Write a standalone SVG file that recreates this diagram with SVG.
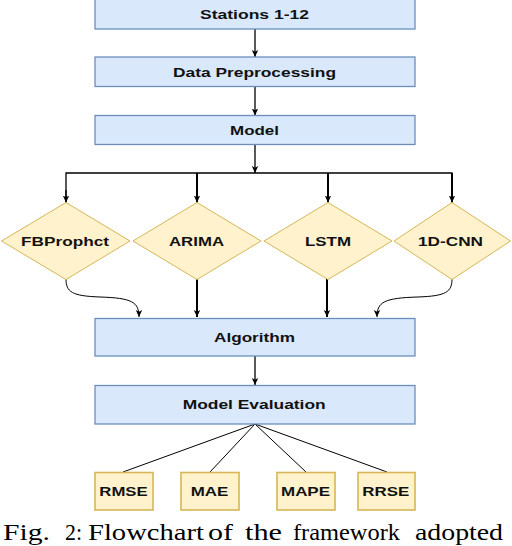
<svg xmlns="http://www.w3.org/2000/svg" width="512" height="546" viewBox="0 0 512 546">
<style>
.box{fill:#dae8fc;stroke:#6c8ebf;stroke-width:1.3}
.dia{fill:#fff2cc;stroke:#d6b656;stroke-width:1}
.met{fill:#fff2cc;stroke:#d6b656;stroke-width:1.6}
.t{font-family:"Liberation Sans",Arial,sans-serif;font-weight:bold;font-size:13px;fill:#111}
.c{fill:none;stroke:#000;stroke-width:1.3}
.ct{fill:none;stroke:#000;stroke-width:2}
.cn{fill:none;stroke:#000;stroke-width:1}
.cap{font-family:"Liberation Serif","Times New Roman",serif;font-size:23px;fill:#000}
</style>
<defs>
<marker id="ah" markerWidth="8" markerHeight="8" refX="7" refY="4" orient="auto" markerUnits="userSpaceOnUse">
<path d="M0,0.8 L7,4 L0,7.2 L1.8,4 Z" fill="#000"/>
</marker>
</defs>
<g id="connectors">
<line class="c" x1="255" y1="29" x2="255" y2="57" marker-end="url(#ah)"/>
<line class="c" x1="255" y1="86.5" x2="255" y2="115.5" marker-end="url(#ah)"/>
<line class="c" x1="255" y1="144.5" x2="255" y2="173" marker-end="url(#ah)"/>
<polyline class="c" points="66,202.5 66,173 452,173 452,202.5"/>
<line class="c" x1="66" y1="190" x2="66" y2="202.5" marker-end="url(#ah)"/>
<line class="ct" x1="197" y1="173" x2="197" y2="202.5" marker-end="url(#ah)"/>
<line class="ct" x1="328" y1="173" x2="328" y2="202.5" marker-end="url(#ah)"/>
<line class="ct" x1="452" y1="173" x2="452" y2="202.5" marker-end="url(#ah)"/>
<path class="cn" d="M66,279 C66,292 72,296 100,297 C132,298 139,302 139,317" marker-end="url(#ah)"/>
<line class="ct" x1="197" y1="279" x2="197" y2="317" marker-end="url(#ah)"/>
<line class="ct" x1="327" y1="279" x2="327" y2="317" marker-end="url(#ah)"/>
<path class="cn" d="M452,279 C452,292 446,296 418,297 C384,298 377,302 377,317" marker-end="url(#ah)"/>
<line class="c" x1="255" y1="356" x2="255" y2="385" marker-end="url(#ah)"/>
<line class="cn" x1="255" y1="424" x2="123" y2="472"/>
<line class="cn" x1="255" y1="424" x2="210" y2="472"/>
<line class="cn" x1="255" y1="424" x2="306" y2="472"/>
<line class="cn" x1="255" y1="424" x2="387" y2="472"/>
</g>
<g id="stations">
<rect class="box" x="95" y="-10" width="320" height="39"/>
<text class="t" x="200" y="19.3" textLength="109" lengthAdjust="spacingAndGlyphs">Stations 1-12</text>
</g>
<g id="preprocessing">
<rect class="box" x="95" y="57" width="320" height="29.5"/>
<text class="t" x="173" y="77" textLength="163" lengthAdjust="spacingAndGlyphs">Data Preprocessing</text>
</g>
<g id="model">
<rect class="box" x="95" y="115.5" width="320" height="29"/>
<text class="t" x="230" y="135" textLength="49" lengthAdjust="spacingAndGlyphs">Model</text>
</g>
<g id="fbprophet">
<polygon class="dia" points="66,202.5 130,241 66,279.5 1.5,241"/>
<text class="t" x="21" y="245.5" textLength="88" lengthAdjust="spacingAndGlyphs">FBProphct</text>
</g>
<g id="arima">
<polygon class="dia" points="197,202.5 261,241 197,279.5 133,241"/>
<text class="t" x="169" y="245.5" textLength="55" lengthAdjust="spacingAndGlyphs">ARIMA</text>
</g>
<g id="lstm">
<polygon class="dia" points="328,202.5 392,241 328,279.5 264,241"/>
<text class="t" x="305" y="245.5" textLength="46" lengthAdjust="spacingAndGlyphs">LSTM</text>
</g>
<g id="cnn">
<polygon class="dia" points="452,202.5 510.5,241 452,279.5 394,241"/>
<text class="t" x="418" y="245.5" textLength="65" lengthAdjust="spacingAndGlyphs">1D-CNN</text>
</g>
<g id="algorithm">
<rect class="box" x="95" y="318.5" width="320" height="37.5"/>
<text class="t" x="214" y="342" textLength="81" lengthAdjust="spacingAndGlyphs">Algorithm</text>
</g>
<g id="evaluation">
<rect class="box" x="95" y="385.5" width="320" height="38.5"/>
<text class="t" x="182.7" y="409" font-size="11.5" textLength="143" lengthAdjust="spacingAndGlyphs">Model Evaluation</text>
</g>
<g id="rmse">
<rect class="met" x="95" y="472.5" width="58" height="37.5"/>
<text class="t" x="99.3" y="496" textLength="48.4" lengthAdjust="spacingAndGlyphs">RMSE</text>
</g>
<g id="mae">
<rect class="met" x="181" y="472.5" width="58" height="37.5"/>
<text class="t" x="190.7" y="496" textLength="37.6" lengthAdjust="spacingAndGlyphs">MAE</text>
</g>
<g id="mape">
<rect class="met" x="277" y="472.5" width="58" height="37.5"/>
<text class="t" x="281" y="496" textLength="49" lengthAdjust="spacingAndGlyphs">MAPE</text>
</g>
<g id="rrse">
<rect class="met" x="358" y="472.5" width="57" height="37.5"/>
<text class="t" x="362.3" y="496" textLength="47" lengthAdjust="spacingAndGlyphs">RRSE</text>
</g>
<g id="caption">
<text class="cap" x="3" y="540" textLength="47" lengthAdjust="spacingAndGlyphs">Fig.</text>
<text class="cap" x="65" y="540" textLength="17" lengthAdjust="spacingAndGlyphs">2:</text>
<text class="cap" x="88" y="540" textLength="116" lengthAdjust="spacingAndGlyphs">Flowchart</text>
<text class="cap" x="208" y="540" textLength="25" lengthAdjust="spacingAndGlyphs">of</text>
<text class="cap" x="245" y="540" textLength="37" lengthAdjust="spacingAndGlyphs">the</text>
<text class="cap" x="293" y="540" textLength="107" lengthAdjust="spacingAndGlyphs">framework</text>
<text class="cap" x="415" y="540" textLength="88" lengthAdjust="spacingAndGlyphs">adopted</text>
</g>
</svg>
